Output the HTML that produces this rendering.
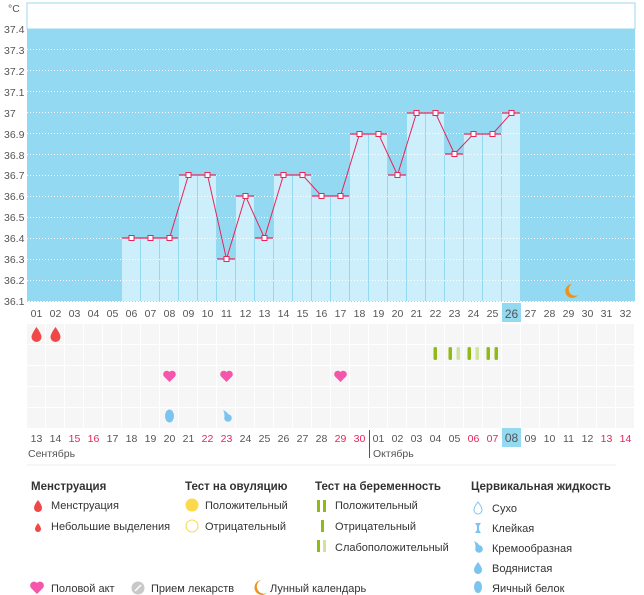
<!DOCTYPE html>
<html><head><meta charset="utf-8"><style>
body{margin:0;background:#fff;}
svg{display:block;font-family:"Liberation Sans",sans-serif;}
.yl{font-size:10.5px;fill:#555}
.xl{font-size:10.5px;fill:#555;text-anchor:middle}
.rd{fill:#e8245a}
.h{font-size:11.5px;font-weight:bold;fill:#333}
.it{font-size:11px;fill:#333}
</style></head><body>
<svg width="644" height="595" viewBox="0 0 644 595">
<rect x="27" y="3" width="608" height="26" fill="#fff" stroke="#9fd8ee" stroke-width="1"/>
<rect x="27" y="29" width="608" height="272" fill="#93d9f2"/>
<g fill="#cdeefb">
<rect x="122" y="238" width="18" height="63"/><rect x="141" y="238" width="18" height="63"/><rect x="160" y="238" width="18" height="63"/>
<rect x="179" y="175" width="18" height="126"/><rect x="198" y="175" width="18" height="126"/><rect x="217" y="259" width="18" height="42"/>
<rect x="236" y="196" width="18" height="105"/><rect x="255" y="238" width="18" height="63"/><rect x="274" y="175" width="18" height="126"/>
<rect x="293" y="175" width="18" height="126"/><rect x="312" y="196" width="18" height="105"/><rect x="331" y="196" width="18" height="105"/>
<rect x="350" y="134" width="18" height="167"/><rect x="369" y="134" width="18" height="167"/><rect x="388" y="175" width="18" height="126"/>
<rect x="407" y="113" width="18" height="188"/><rect x="426" y="113" width="18" height="188"/><rect x="445" y="154" width="18" height="147"/>
<rect x="464" y="134" width="18" height="167"/><rect x="483" y="134" width="18" height="167"/><rect x="502" y="113" width="18" height="188"/>
</g>
<g stroke="#fff" stroke-width="1" stroke-dasharray="1,2">
<line x1="27" y1="49.5" x2="635" y2="49.5"/><line x1="27" y1="70.5" x2="635" y2="70.5"/><line x1="27" y1="91.5" x2="635" y2="91.5"/>
<line x1="27" y1="112.5" x2="635" y2="112.5"/><line x1="27" y1="133.5" x2="635" y2="133.5"/><line x1="27" y1="154.5" x2="635" y2="154.5"/>
<line x1="27" y1="175.5" x2="635" y2="175.5"/><line x1="27" y1="196.5" x2="635" y2="196.5"/><line x1="27" y1="217.5" x2="635" y2="217.5"/>
<line x1="27" y1="238.5" x2="635" y2="238.5"/><line x1="27" y1="259.5" x2="635" y2="259.5"/><line x1="27" y1="280.5" x2="635" y2="280.5"/>
<line x1="27" y1="301.5" x2="635" y2="301.5" stroke="#9fd8ee"/>
</g>
<g stroke="#e8245a" stroke-width="1.3">
<line x1="122" y1="238" x2="178" y2="238"/><line x1="179" y1="175" x2="216" y2="175"/><line x1="217" y1="259" x2="235" y2="259"/>
<line x1="236" y1="196" x2="254" y2="196"/><line x1="255" y1="238" x2="273" y2="238"/><line x1="274" y1="175" x2="311" y2="175"/>
<line x1="312" y1="196" x2="349" y2="196"/><line x1="350" y1="134" x2="387" y2="134"/><line x1="388" y1="175" x2="406" y2="175"/>
<line x1="407" y1="113" x2="444" y2="113"/><line x1="445" y1="154" x2="463" y2="154"/><line x1="464" y1="134" x2="501" y2="134"/><line x1="502" y1="113" x2="520" y2="113"/>
</g>
<polyline fill="none" stroke="#e8245a" stroke-width="1" points="131.5,238 150.5,238 169.5,238 188.5,175 207.5,175 226.5,259 245.5,196 264.5,238 283.5,175 302.5,175 321.5,196 340.5,196 359.5,134 378.5,134 397.5,175 416.5,113 435.5,113 454.5,154 473.5,134 492.5,134 511.5,113"/>
<g fill="#fff" stroke="#e8245a" stroke-width="1">
<rect x="129" y="235.5" width="5" height="5"/><rect x="148" y="235.5" width="5" height="5"/><rect x="167" y="235.5" width="5" height="5"/>
<rect x="186" y="172.5" width="5" height="5"/><rect x="205" y="172.5" width="5" height="5"/><rect x="224" y="256.5" width="5" height="5"/>
<rect x="243" y="193.5" width="5" height="5"/><rect x="262" y="235.5" width="5" height="5"/><rect x="281" y="172.5" width="5" height="5"/>
<rect x="300" y="172.5" width="5" height="5"/><rect x="319" y="193.5" width="5" height="5"/><rect x="338" y="193.5" width="5" height="5"/>
<rect x="357" y="131.5" width="5" height="5"/><rect x="376" y="131.5" width="5" height="5"/><rect x="395" y="172.5" width="5" height="5"/>
<rect x="414" y="110.5" width="5" height="5"/><rect x="433" y="110.5" width="5" height="5"/><rect x="452" y="151.5" width="5" height="5"/>
<rect x="471" y="131.5" width="5" height="5"/><rect x="490" y="131.5" width="5" height="5"/><rect x="509" y="110.5" width="5" height="5"/>
</g>
<path d="M572 284 a7 7 0 1 0 6 11 a6 6 0 0 1 -6 -11z" fill="#f0921a"/>
<text x="8" y="12" class="yl" font-size="12">°C</text>
<g class="yl">
<text x="4" y="33">37.4</text><text x="4" y="54">37.3</text><text x="4" y="75">37.2</text><text x="4" y="96">37.1</text>
<text x="4" y="117">37</text><text x="4" y="138">36.9</text><text x="4" y="159">36.8</text><text x="4" y="179">36.7</text>
<text x="4" y="200">36.6</text><text x="4" y="221">36.5</text><text x="4" y="242">36.4</text><text x="4" y="263">36.3</text><text x="4" y="305">36.1</text>
<text x="4" y="284">36.2</text>
</g>
<rect x="502" y="303" width="19" height="19" fill="#93d9f2"/>
<g class="xl">
<text x="36.5" y="317">01</text><text x="55.5" y="317">02</text><text x="74.5" y="317">03</text><text x="93.5" y="317">04</text><text x="112.5" y="317">05</text><text x="131.5" y="317">06</text><text x="150.5" y="317">07</text><text x="169.5" y="317">08</text><text x="188.5" y="317">09</text><text x="207.5" y="317">10</text><text x="226.5" y="317">11</text><text x="245.5" y="317">12</text><text x="264.5" y="317">13</text><text x="283.5" y="317">14</text><text x="302.5" y="317">15</text><text x="321.5" y="317">16</text><text x="340.5" y="317">17</text><text x="359.5" y="317">18</text><text x="378.5" y="317">19</text><text x="397.5" y="317">20</text><text x="416.5" y="317">21</text><text x="435.5" y="317">22</text><text x="454.5" y="317">23</text><text x="473.5" y="317">24</text><text x="492.5" y="317">25</text><text x="511.5" y="318" font-size="12">26</text><text x="530.5" y="317">27</text><text x="549.5" y="317">28</text><text x="568.5" y="317">29</text><text x="587.5" y="317">30</text><text x="606.5" y="317">31</text><text x="625.5" y="317">32</text>
</g>
<defs><pattern id="cells" x="27" y="324" width="19" height="21" patternUnits="userSpaceOnUse"><rect x="0" y="0" width="18" height="20" fill="#f6f6f6"/></pattern></defs>
<rect x="27" y="324" width="608" height="105" fill="url(#cells)"/>
<path d="M36.5 327 q-5 7 -5 10 a5 5 0 0 0 10 0 q0 -3 -5 -10z" fill="#f04848"/>
<path d="M55.5 327 q-5 7 -5 10 a5 5 0 0 0 10 0 q0 -3 -5 -10z" fill="#f04848"/>
<g>
<rect x="433.5" y="347" width="3.5" height="13" rx="1.5" fill="#8fba17"/>
<rect x="448.5" y="347" width="3.5" height="13" rx="1.5" fill="#8fba17"/><rect x="456.5" y="347" width="3.5" height="13" rx="1.5" fill="#cfe3a0"/>
<rect x="467.5" y="347" width="3.5" height="13" rx="1.5" fill="#8fba17"/><rect x="475.5" y="347" width="3.5" height="13" rx="1.5" fill="#cfe3a0"/>
<rect x="486.5" y="347" width="3.5" height="13" rx="1.5" fill="#8fba17"/><rect x="494.5" y="347" width="3.5" height="13" rx="1.5" fill="#8fba17"/>
</g>
<g fill="#f556ab">
<path d="M169.5 382 l-5.5 -5.5 a3 3 0 0 1 5.5 -4.5 a3 3 0 0 1 5.5 4.5z"/>
<path d="M226.5 382 l-5.5 -5.5 a3 3 0 0 1 5.5 -4.5 a3 3 0 0 1 5.5 4.5z"/>
<path d="M340.5 382 l-5.5 -5.5 a3 3 0 0 1 5.5 -4.5 a3 3 0 0 1 5.5 4.5z"/>
</g>
<ellipse cx="169.5" cy="416" rx="4.5" ry="6.5" fill="#7cc4f0"/>
<circle cx="228" cy="418" r="3.8" fill="#7cc4f0"/><path d="M224.5 417 q0 -5 -1.5 -7 q5 2 6 6z" fill="#7cc4f0"/>
<rect x="502" y="428" width="19" height="19" fill="#93d9f2"/>
<line x1="369.5" y1="430" x2="369.5" y2="458" stroke="#555"/>
<g class="xl">
<text x="36.5" y="442">13</text><text x="55.5" y="442">14</text><text x="74.5" y="442" class="rd">15</text><text x="93.5" y="442" class="rd">16</text><text x="112.5" y="442">17</text><text x="131.5" y="442">18</text><text x="150.5" y="442">19</text><text x="169.5" y="442">20</text><text x="188.5" y="442">21</text><text x="207.5" y="442" class="rd">22</text><text x="226.5" y="442" class="rd">23</text><text x="245.5" y="442">24</text><text x="264.5" y="442">25</text><text x="283.5" y="442">26</text><text x="302.5" y="442">27</text><text x="321.5" y="442">28</text><text x="340.5" y="442" class="rd">29</text><text x="359.5" y="442" class="rd">30</text><text x="378.5" y="442">01</text><text x="397.5" y="442">02</text><text x="416.5" y="442">03</text><text x="435.5" y="442">04</text><text x="454.5" y="442">05</text><text x="473.5" y="442" class="rd">06</text><text x="492.5" y="442" class="rd">07</text><text x="511.5" y="442" font-size="12">08</text><text x="530.5" y="442">09</text><text x="549.5" y="442">10</text><text x="568.5" y="442">11</text><text x="587.5" y="442">12</text><text x="606.5" y="442" class="rd">13</text><text x="625.5" y="442" class="rd">14</text>
</g>
<text x="28" y="457" class="yl" font-size="11">Сентябрь</text>
<text x="373" y="457" class="yl" font-size="11">Октябрь</text>
<line x1="27" y1="465" x2="616" y2="465" stroke="#eee"/>
<text x="31" y="490" class="h">Менструация</text>
<text x="185" y="490" class="h">Тест на овуляцию</text>
<text x="315" y="490" class="h">Тест на беременность</text>
<text x="471" y="490" class="h">Цервикальная жидкость</text>
<path d="M38 500 q-4 5 -4 8 a4 4 0 0 0 8 0 q0 -3 -4 -8z" fill="#f04848"/>
<text x="51" y="509" class="it">Менструация</text>
<path d="M38 523 q-3 4 -3 6 a3 3 0 0 0 6 0 q0 -2 -3 -6z" fill="#f04848"/>
<text x="51" y="530" class="it">Небольшие выделения</text>
<circle cx="192" cy="505" r="6.5" fill="#fcd84a"/>
<text x="205" y="509" class="it">Положительный</text>
<circle cx="192" cy="526" r="6" fill="#fff" stroke="#fcd84a"/>
<text x="205" y="530" class="it">Отрицательный</text>
<rect x="317" y="500" width="3" height="12" fill="#8fba17"/><rect x="323" y="500" width="3" height="12" fill="#8fba17"/>
<text x="335" y="509" class="it">Положительный</text>
<rect x="321" y="520" width="3" height="12" fill="#8fba17"/>
<text x="335" y="530" class="it">Отрицательный</text>
<rect x="317" y="540" width="3" height="12" fill="#8fba17"/><rect x="323" y="540" width="3" height="12" fill="#cfe3a0"/>
<text x="335" y="551" class="it">Слабоположительный</text>
<path d="M478 502 q-4 5 -4 8 a4 4 0 0 0 8 0 q0 -3 -4 -8z" fill="none" stroke="#7cc4f0"/>
<text x="492" y="512" class="it">Сухо</text>
<path d="M475 523 h6 l-2 3 v4 l2 3 h-6 l2 -3 v-4z" fill="#7cc4f0"/>
<text x="492" y="532" class="it">Клейкая</text>
<circle cx="479" cy="549" r="3.8" fill="#7cc4f0"/><path d="M475.5 548 q0 -5 -1.5 -7 q5 2 6 6z" fill="#7cc4f0"/>
<text x="492" y="552" class="it">Кремообразная</text>
<path d="M478 562 q-4 5 -4 8 a4 4 0 0 0 8 0 q0 -3 -4 -8z" fill="#7cc4f0"/>
<text x="492" y="572" class="it">Водянистая</text>
<ellipse cx="478" cy="587" rx="4" ry="6" fill="#7cc4f0"/>
<text x="492" y="592" class="it">Яичный белок</text>
<path d="M37 594 l-6 -6 a3.4 3.4 0 0 1 6 -5 a3.4 3.4 0 0 1 6 5z" fill="#f556ab"/>
<text x="51" y="592" class="it">Половой акт</text>
<circle cx="138" cy="588" r="6.5" fill="#c8c8c8"/><line x1="135" y1="591" x2="141" y2="585" stroke="#fff" stroke-width="1.5"/>
<text x="151" y="592" class="it">Прием лекарств</text>
<path d="M261 580 a7.5 7.5 0 1 0 6 13 a6 6 0 0 1 -6 -13z" fill="#f0921a"/>
<text x="270" y="592" class="it">Лунный календарь</text>
</svg>
</body></html>
